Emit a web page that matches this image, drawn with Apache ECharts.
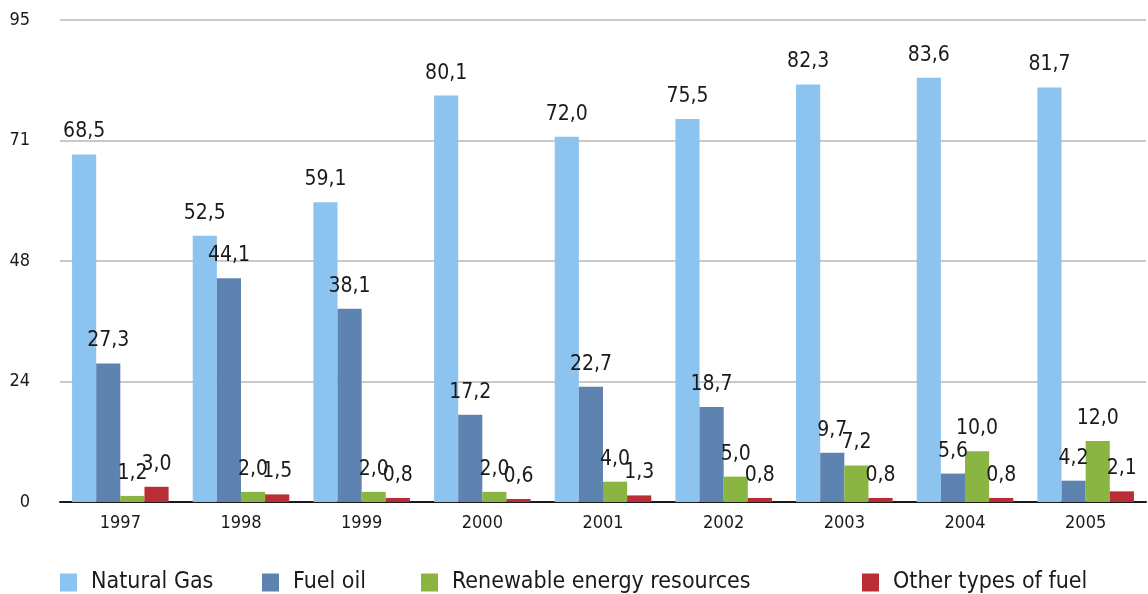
<!DOCTYPE html>
<html>
<head>
<meta charset="utf-8">
<script src="https://cdn.jsdelivr.net/npm/echarts@6/dist/echarts.min.js"></script>
<style>
  html, body { margin: 0; padding: 0; background: #fff; }
  #chart { width: 1148px; height: 594px; }
</style>
</head>
<body>
<div id="chart"></div>
<script>
  // categories and series values
  var years = ['1997', '1998', '1999', '2000', '2001', '2002', '2003', '2004', '2005'];
  var seriesNames = ['Natural Gas', 'Fuel oil', 'Renewable energy resources', 'Other types of fuel'];
  var naturalGas = [68.5, 52.5, 59.1, 80.1, 72.0, 75.5, 82.3, 83.6, 81.7];
  var fuelOil = [27.3, 44.1, 38.1, 17.2, 22.7, 18.7, 9.7, 5.6, 4.2];
  var renewable = [1.2, 2.0, 2.0, 2.0, 4.0, 5.0, 7.2, 10.0, 12.0];
  var otherFuel = [3.0, 1.5, 0.8, 0.6, 1.3, 0.8, 0.8, 0.8, 2.1];

  var colors = ['#8dc3ef', '#5e83b0', '#8bb543', '#b92d36'];
  var legendLeft = [60, 262, 421, 862];

  // condensed face: 'condensed' lands in the stretch slot of the font shorthand
  var FONT = '"DejaVu Sans", sans-serif';
  var STRETCH = 'condensed';

  // comma as decimal separator
  function fmt (v) {
    return Number(v).toFixed(1).replace('.', ',');
  }

  function barSeries (name, data, color) {
    return {
      name: name,
      type: 'bar',
      data: data,
      barGap: '0%',
      barCategoryGap: '20%',
      itemStyle: { color: color },
      label: {
        show: true,
        position: 'top',
        distance: 12,
        color: '#1a1a1a',
        fontFamily: FONT,
        fontWeight: STRETCH,
        fontSize: 21,
        formatter: function (p) { return fmt(p.value); }
      }
    };
  }

  // one legend per item so each sits where the original puts it
  var legends = seriesNames.map(function (name, i) {
    return {
      left: legendLeft[i],
      top: 569,
      padding: [2, 5, 2, 0],
      itemWidth: 17,
      itemHeight: 18,
      icon: 'rect',
      textStyle: { fontFamily: FONT, fontWeight: STRETCH, fontSize: 23, color: '#1a1a1a', padding: [0, 0, 0, 9] },
      data: [name]
    };
  });

  var myChart = echarts.init(document.getElementById('chart'));
  myChart.setOption({
    animation: false,
    textStyle: { fontFamily: FONT },
    grid: { left: 60, right: 2, top: 20, bottom: 92 },
    legend: legends,
    xAxis: {
      type: 'category',
      data: years,
      axisLine: { lineStyle: { color: '#1a1a1a', width: 2 } },
      axisTick: { show: false },
      axisLabel: { color: '#1a1a1a', fontSize: 18, margin: 12, fontFamily: FONT, fontWeight: STRETCH }
    },
    yAxis: {
      type: 'value',
      min: 0,
      max: 95,
      interval: 23.75,
      axisLine: { show: false },
      axisTick: { show: false },
      axisLabel: {
        color: '#1a1a1a',
        fontSize: 18,
        margin: 30,
        fontFamily: FONT,
        fontWeight: STRETCH,
        formatter: function (v) { return Math.round(v); }
      },
      splitLine: { lineStyle: { color: '#cac8c8', width: 2 } }
    },
    series: [
      barSeries(seriesNames[0], naturalGas, colors[0]),
      barSeries(seriesNames[1], fuelOil, colors[1]),
      barSeries(seriesNames[2], renewable, colors[2]),
      barSeries(seriesNames[3], otherFuel, colors[3])
    ]
  });
</script>
</body>
</html>
